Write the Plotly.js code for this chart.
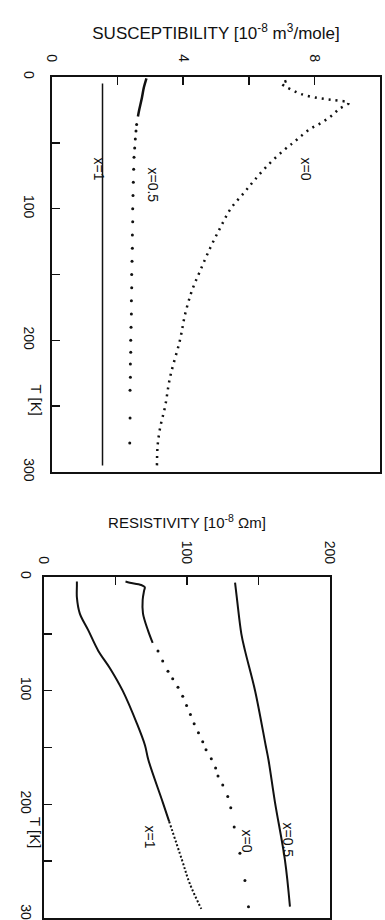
<!DOCTYPE html>
<html><head><meta charset="utf-8">
<script src="https://cdn.plot.ly/plotly-3.0.1.min.js"></script>
<style>html,body{margin:0;padding:0;background:#fff;}#chart{width:385px;height:920px;}</style>
</head><body><div id="chart"></div>
<script>
// ---- Susceptibility panel (T in K, chi in 1e-8 m^3/mole)
const susX0_T   = [3, 5, 7, 9, 13, 16, 17.5, 19.7, 24, 29.5, 35, 39, 44.7, 50, 56, 67, 79, 88, 100, 114, 129.5, 147, 162, 180, 200, 228, 250, 266, 280, 295];
const susX0_chi = [7.15, 7.0, 7.1, 7.25, 7.6, 8.12, 8.58, 9.05, 8.77, 8.52, 8.2, 7.9, 7.6, 7.35, 7.05, 6.58, 6.15, 5.85, 5.45, 5.14, 4.83, 4.52, 4.27, 4.06, 3.9, 3.6, 3.45, 3.3, 3.22, 3.2];
const susX05line_T   = [1, 8, 16, 26, 30];
const susX05line_chi = [2.88, 2.8, 2.74, 2.65, 2.62];
const susX05dots_T   = [36, 41, 47, 54, 61, 70, 80, 90, 100, 110, 120, 130, 140, 150, 160, 170, 180, 190, 200, 209, 218, 228, 238, 259, 278];
const susX05dots_chi = [2.58, 2.56, 2.54, 2.52, 2.5, 2.49, 2.48, 2.47, 2.46, 2.46, 2.45, 2.45, 2.44, 2.43, 2.43, 2.42, 2.42, 2.41, 2.40, 2.40, 2.39, 2.39, 2.38, 2.38, 2.37];
const susX1_T   = [5, 295];
const susX1_chi = [1.54, 1.54];

// ---- Resistivity panel (T in K, rho in 1e-8 Ohm m)
const resX1solid_T   = [4, 8, 18, 32, 47, 65, 80, 100, 129, 148, 161, 198, 215];
const resX1solid_rho = [23, 23, 23, 25, 31, 38, 46, 55, 65, 70.6, 73, 83, 87.5];
const resX1dot_T     = [215, 249, 270, 292];
const resX1dot_rho   = [87.5, 96.5, 102, 110];
const resX0solid_T   = [4, 5, 7, 9, 12, 20, 32, 47, 58];
const resX0solid_rho = [57, 60, 68, 70.5, 70, 69, 69.2, 72.7, 76];
const resX0dots_T    = [65, 74, 83, 89.5, 97, 105, 113, 121, 129, 137, 145, 152, 160, 168, 175, 183, 193, 203, 220, 243, 267, 290];
const resX0dots_rho  = [79.7, 83, 86.7, 90, 93.7, 97, 99.7, 102.4, 105, 108, 111, 113.3, 117, 120, 121.7, 125, 128.5, 130.6, 133, 137, 140.5, 143];
const resX05_T   = [5, 20, 50, 65, 100, 148, 161, 198, 249, 290];
const resX05_rho = [133.6, 135, 138, 140.6, 147.6, 155, 157, 161.5, 168.5, 172];

const susTitle = 'SUSCEPTIBILITY [10<sup>-8</sup> m<sup>3</sup>/mole]';
const resTitle = 'RESISTIVITY [10<sup>-8</sup> Ωm]';
const tTitle = 'T [K]';
const curveLabels = ['x=0', 'x=0.5', 'x=1'];

const FONT = 'Liberation Sans, Arial, sans-serif';
const ink = '#111';

const traces = [
  {x: susX0_chi, y: susX0_T, mode: 'lines', line: {color: ink, width: 2.5, dash: '2px,5px', shape: 'spline'}, xaxis: 'x', yaxis: 'y', name: 'x=0'},
  {x: susX05line_chi, y: susX05line_T, mode: 'lines', line: {color: ink, width: 2.5, shape: 'spline'}, xaxis: 'x', yaxis: 'y', name: 'x=0.5'},
  {x: susX05dots_chi, y: susX05dots_T, mode: 'markers', marker: {color: ink, size: 3}, xaxis: 'x', yaxis: 'y', name: 'x=0.5'},
  {x: susX1_chi, y: susX1_T, mode: 'lines', line: {color: ink, width: 1.5}, xaxis: 'x', yaxis: 'y', name: 'x=1'},
  {x: resX1solid_rho, y: resX1solid_T, mode: 'lines', line: {color: ink, width: 2, shape: 'spline'}, xaxis: 'x2', yaxis: 'y2', name: 'x=1'},
  {x: resX1dot_rho, y: resX1dot_T, mode: 'lines', line: {color: ink, width: 2, dash: '2px,2px', shape: 'spline'}, xaxis: 'x2', yaxis: 'y2', name: 'x=1'},
  {x: resX0solid_rho, y: resX0solid_T, mode: 'lines', line: {color: ink, width: 2, shape: 'spline'}, xaxis: 'x2', yaxis: 'y2', name: 'x=0'},
  {x: resX0dots_rho, y: resX0dots_T, mode: 'markers', marker: {color: ink, size: 3}, xaxis: 'x2', yaxis: 'y2', name: 'x=0'},
  {x: resX05_rho, y: resX05_T, mode: 'lines', line: {color: ink, width: 2, shape: 'spline'}, xaxis: 'x2', yaxis: 'y2', name: 'x=0.5'}
];

const W = 385, H = 920;
const px = v => v / W, py = v => 1 - v / H;

const axCommon = {showline: true, linecolor: ink, linewidth: 2, mirror: true, showgrid: false, zeroline: false,
  ticks: 'inside', ticklen: 8, tickwidth: 1.5, tickcolor: ink, tickangle: 90, ticklabeloverflow: 'allow',
  tickfont: {family: FONT, size: 14, color: ink}};

const layout = {
  width: W, height: H, margin: {l: 0, r: 0, t: 0, b: 0},
  paper_bgcolor: '#fff', plot_bgcolor: '#fff', showlegend: false,
  font: {family: FONT, color: ink},
  xaxis: Object.assign({}, axCommon, {domain: [px(52), px(380)], range: [0, 10], side: 'top', anchor: 'y',
    dtick: 4, tick0: 0, minor: {dtick: 2, ticks: 'inside', ticklen: 8, tickcolor: ink, tickwidth: 1.5},
    ticklabelstandoff: 8,
    title: {text: susTitle, standoff: 10, font: {family: FONT, size: 17, color: ink}}}),
  yaxis: Object.assign({}, axCommon, {domain: [py(472), py(77)], range: [300, 0], anchor: 'x',
    dtick: 100, tick0: 0, minor: {dtick: 50, ticks: 'inside', ticklen: 8, tickcolor: ink, tickwidth: 1.5},
    ticklabelstandoff: 9}),
  xaxis2: Object.assign({}, axCommon, {domain: [px(44), px(330)], range: [0, 200], side: 'top', anchor: 'y2',
    dtick: 100, tick0: 0, minor: {dtick: 50, ticks: 'inside', ticklen: 8, tickcolor: ink, tickwidth: 1.5},
    ticklabelstandoff: 6,
    title: {text: resTitle, standoff: 8, font: {family: FONT, size: 15, color: ink}}}),
  yaxis2: Object.assign({}, axCommon, {domain: [py(918), py(577)], range: [300, 0], anchor: 'x2',
    dtick: 100, tick0: 0, minor: {dtick: 50, ticks: 'inside', ticklen: 8, tickcolor: ink, tickwidth: 1.5},
    ticklabelstandoff: 4}),
  annotations: [
    {xref: 'paper', yref: 'paper', x: px(25), y: py(400), text: tTitle, textangle: 90, showarrow: false, font: {family: FONT, size: 15, color: ink}},
    {xref: 'paper', yref: 'paper', x: px(25), y: py(850), text: tTitle, textangle: 90, showarrow: false, font: {family: FONT, size: 15, color: ink}},
    {xref: 'paper', yref: 'paper', x: px(315), y: py(155), text: curveLabels[0], textangle: 90, showarrow: false, font: {family: FONT, size: 14, color: ink}},
    {xref: 'paper', yref: 'paper', x: px(153), y: py(165), text: curveLabels[1], textangle: 90, showarrow: false, font: {family: FONT, size: 14, color: ink}},
    {xref: 'paper', yref: 'paper', x: px(88), y: py(155), text: curveLabels[2], textangle: 90, showarrow: false, font: {family: FONT, size: 14, color: ink}},
    {xref: 'paper', yref: 'paper', x: px(257), y: py(854), text: curveLabels[0], textangle: 90, showarrow: false, font: {family: FONT, size: 14, color: ink}},
    {xref: 'paper', yref: 'paper', x: px(298), y: py(859), text: curveLabels[1], textangle: 90, showarrow: false, font: {family: FONT, size: 14, color: ink}},
    {xref: 'paper', yref: 'paper', x: px(150), y: py(850), text: curveLabels[2], textangle: 90, showarrow: false, font: {family: FONT, size: 14, color: ink}}
  ]
};

Plotly.newPlot('chart', traces, layout, {staticPlot: true, displayModeBar: false});
</script>
</body></html>
